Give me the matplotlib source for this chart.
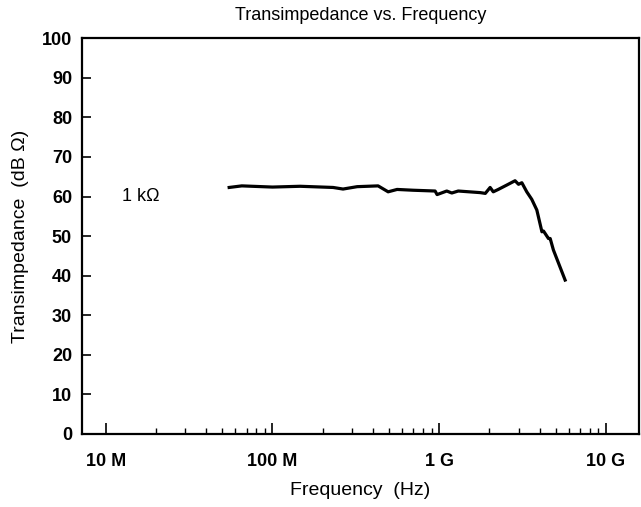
import matplotlib
matplotlib.use("Agg")
import matplotlib.pyplot as plt
from matplotlib.ticker import FixedLocator, NullFormatter

plt.rcParams['font.family'] = ['Liberation Sans', 'DejaVu Sans']

# Data (frequency in MHz, transimpedance in dB Ohm)
freq_mhz = [55.0, 65.5, 100.0, 146.5, 231.0, 265.0, 322.0, 430.0, 494.0, 559.0,
            697.0, 945.0, 971.0, 1110.0, 1190.0, 1300.0, 1760.0, 1890.0, 2020.0,
            2110.0, 2260.0, 2540.0, 2850.0, 2990.0, 3130.0, 3350.0, 3590.0,
            3850.0, 4130.0, 4220.0, 4520.0, 4630.0, 4840.0, 5690.0]
trans_db = [62.3, 62.7, 62.4, 62.6, 62.3, 61.9, 62.5, 62.7, 61.2, 61.8,
            61.6, 61.4, 60.5, 61.4, 60.9, 61.4, 61.0, 60.8, 62.3,
            61.2, 61.8, 62.9, 64.0, 63.1, 63.5, 61.2, 59.3,
            56.6, 51.1, 51.3, 49.4, 49.4, 46.5, 38.9]

xtick_vals = [1e7, 1e8, 1e9, 1e10]
xtick_labels = ["10 M", "100 M", "1 G", "10 G"]
xminor_vals = [m * d for d in (1e7, 1e8, 1e9) for m in range(2, 10)]
ytick_vals = [0, 10, 20, 30, 40, 50, 60, 70, 80, 90, 100]

title = "Transimpedance vs. Frequency"
xlabel = "Frequency  (Hz)"
ylabel = "Transimpedance  (dB \u03a9)"
annotation = "1 k\u03a9"

fig = plt.figure(figsize=(6.41, 5.07), dpi=100)
ax = fig.add_axes([0.1275, 0.144, 0.997 - 0.1275, 0.9245 - 0.144])

freq_hz = [f * 1e6 for f in freq_mhz]
ax.plot(freq_hz, trans_db, color='black', linewidth=2.3, solid_joinstyle='round')

ax.set_xscale('log')
ax.set_xlim(7.18e6, 1.58e10)
ax.set_ylim(0, 100)

ax.xaxis.set_major_locator(FixedLocator(xtick_vals))
ax.set_xticks(xtick_vals)
ax.set_xticklabels(xtick_labels)
ax.xaxis.set_minor_locator(FixedLocator(xminor_vals))
ax.xaxis.set_minor_formatter(NullFormatter())
ax.set_yticks(ytick_vals)

ax.tick_params(axis='x', which='major', direction='in', length=8, width=1.2,
               labelsize=13, pad=14, top=False)
ax.tick_params(axis='x', which='minor', direction='in', length=4.5, width=1.0, top=False)
ax.tick_params(axis='y', which='major', direction='in', length=6.5, width=1.2,
               labelsize=13, pad=7, right=False)
for lbl in ax.get_xticklabels() + ax.get_yticklabels():
    lbl.set_fontweight('bold')

for sp in ax.spines.values():
    sp.set_linewidth(1.6)

ax.text(1.25e7, 60, annotation, fontsize=13, va='center', ha='left')

ax.set_title(title, fontsize=13, pad=13)
ax.set_xlabel(xlabel, fontsize=14, labelpad=8)
ax.set_ylabel(ylabel, fontsize=14, labelpad=9)

fig.savefig("out.png", dpi=100)
